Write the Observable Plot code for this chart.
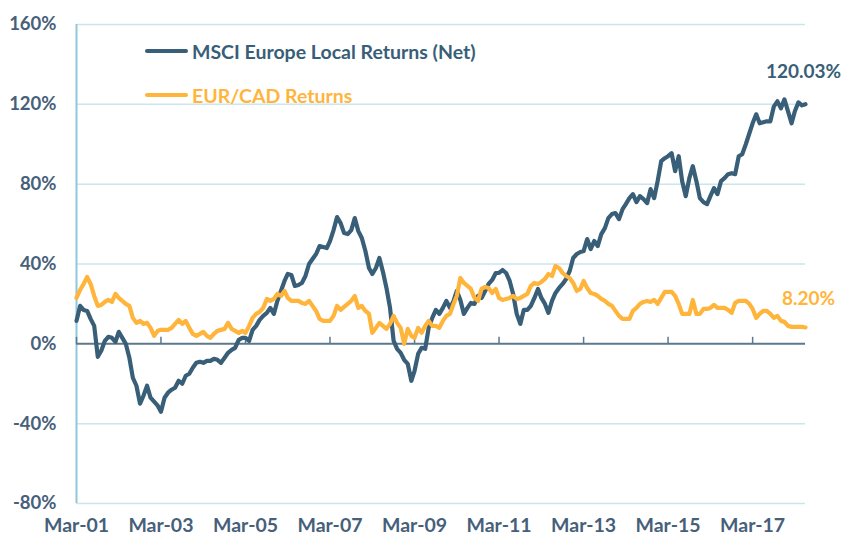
<!DOCTYPE html>
<html><head><meta charset="utf-8">
<script src="https://cdn.jsdelivr.net/npm/d3@7"></script>
<script src="https://cdn.jsdelivr.net/npm/@observablehq/plot@0.6"></script>
<style>
body{margin:0;background:#fff;}
#wrap{position:relative;width:843px;height:538px;font-family:Lato,"Open Sans",sans-serif;}
.row{position:absolute;left:145px;display:flex;align-items:center;height:24px;white-space:nowrap;font-size:19.5px;font-weight:700;}
.sw{width:43px;height:4px;border-radius:2px;margin-right:4px;}
</style></head>
<body><div id="wrap"></div>
<script>
const seriesNames = ["MSCI Europe Local Returns (Net)", "EUR/CAD Returns"];
const startMonth = "2001-03"; // monthly series, Mar-01 .. Jun-18
const msci = [
 11.5,19,17,16.5,12.5,9,-6.5,-3.5,1.5,3.5,3,1,6,3,0,-7,-17,-21,-30,-26,
 -21,-27,-29,-31,-34,-27,-24.5,-23,-22,-18.5,-20,-16,-15,-12,-9.5,-9,-9.5,-8.5,-8.5,-7.5,
 -8,-9.5,-7,-4.5,-3,-2,2,3,3,1.5,7,9,12,14,15.5,18,15,21.5,26.5,31.5,
 35,34.5,29,29.5,30.5,34,40,42.5,45,49,48.5,48,51.5,57,63.5,60.5,55.5,55,57,63,
 56.5,53,46.5,38,35,38,43,36,28,18,1.5,-2.5,-4.5,-8,-10,-18.5,-13.5,-5,-2,-2.5,
 8,13,17,15,18,21.5,18,21.5,26.5,22,15,18,20.5,20,24,23,26.5,30,32,35.5,
 35.5,37,35.5,31.5,25,15,10,17,17,19,23,27.5,23,20,15.5,21.5,25.5,28,30,32.5,
 36.5,43,45,46,46.5,52.5,47.5,51.5,49,55,58,63,65,65.5,62.5,67.5,70,73,75,71,
 74,72.5,70.5,77.5,73,81.5,91.5,93,94,95.5,86.5,94,81.5,74,83,89,81.5,73,71,70,
 74,78,75,81.5,83,85,85.5,85,94,95,100,105.5,110.5,115,110.5,111,111.5,111.5,119,121.5,
 118,122.5,116.5,110.5,116.5,121,119.5,120.03
];
const eurcad = [
 23,27,30,33.5,30,24,19,19.5,21,22,21,25,23,21.5,20,19,13,10.5,11.5,10,
 10.5,8,4,6.5,7,7,7,8,10,12,10,11.5,8,5,4,5,6,4,3,5,
 6.5,7,7.5,10.5,7.5,6.5,5.5,6.5,5.5,9,13,15,16,18,22.5,21.5,22.5,25,24,26.5,
 23,21.5,21.5,21.5,20.5,20,21.5,19,16.5,12.5,11.5,11.5,11.5,14,19,17,18.5,20,21.5,24,
 18,19,16.5,15,5.5,8,10.5,9,7.5,10,14,10.5,8,0,7.5,4,3,8,5.5,9,
 11.5,9,9,8,11.5,14,15,20,24,33,30.5,29,27.5,23,21.5,27.5,28.5,28,25.5,27.5,
 23,22,22.5,23,24,22.5,23,24,25,29,30.5,30,31,32.5,35,34,39,38,35.5,34,
 33,30.5,26.5,27.5,31.5,28,25.5,25,24,22.5,21.5,20,19,16.5,14,12.5,12.5,12.5,16.5,18,
 20,21,21.5,21,22,20,23,26,26,26,24,20,15,15,15,22,15,15,17.5,17.5,
 18,19.5,18,18,18,17,15.5,20.5,21.5,21.5,21.5,20,17.5,13,15,16.5,16.5,15,13,14,
 11.5,11,9,8.5,8.5,8.5,8.5,8.2
];
const tickLabels = ["Mar-01","Mar-03","Mar-05","Mar-07","Mar-09","Mar-11","Mar-13","Mar-15","Mar-17"];
const yTicks = [-80,-40,0,40,80,120,160];
const endLabels = ["120.03%", "8.20%"];

const navy = "#385e78", orange = "#ffb53c";
const parseM = d3.timeParse("%Y-%m");
const start = parseM(startMonth);
const dates = msci.map((_, i) => d3.timeMonth.offset(start, i));
const msciData = msci.map((v, i) => ({date: dates[i], value: v}));
const eurData = eurcad.map((v, i) => ({date: dates[i], value: v}));
const tickDates = tickLabels.map(d3.timeParse("%b-%y"));
const upTick = {draw(ctx) { ctx.moveTo(0, 0); ctx.lineTo(0, -7); }};

const plot = Plot.plot({
  width: 843, height: 538,
  marginTop: 24, marginRight: 38, marginBottom: 35, marginLeft: 76,
  style: {fontFamily: "Lato, 'Open Sans', sans-serif", fontSize: "18.5px", fontWeight: 700, color: "#46607a", background: "white", overflow: "visible"},
  x: {type: "time", domain: [dates[0], dates[dates.length - 1]]},
  y: {domain: [-80, 160]},
  marks: [
    Plot.ruleY(yTicks.filter(d => d !== 0), {stroke: "#c9e5ee", strokeWidth: 1.5}),
    Plot.ruleX([dates[0]], {stroke: "#8ccadb", strokeWidth: 2}),
    Plot.ruleY([0], {stroke: "#5b788e", strokeWidth: 2}),
    Plot.dot(tickDates, {x: d => d, y: () => 0, symbol: upTick, stroke: "#5b788e", strokeWidth: 1.5, fill: "none"}),
    Plot.axisX({ticks: tickDates, tickFormat: d3.timeFormat("%b-%y"), tickSize: 0, tickPadding: 15, fontSize: 19.5, label: null}),
    Plot.axisY({ticks: yTicks, tickFormat: d => d + "%", tickSize: 0, tickPadding: 20, label: null}),
    Plot.line(msciData, {x: "date", y: "value", stroke: navy, strokeWidth: 4.2, strokeLinejoin: "round", strokeLinecap: "round"}),
    Plot.line(eurData, {x: "date", y: "value", stroke: orange, strokeWidth: 4.2, strokeLinejoin: "round", strokeLinecap: "round"}),
    Plot.text([msciData[msciData.length - 1]], {x: "date", y: "value", text: () => endLabels[0], dy: -32, dx: -2, fill: navy, fontSize: 19, fontWeight: 700}),
    Plot.text([eurData[eurData.length - 1]], {x: "date", y: "value", text: () => endLabels[1], dy: -29, dx: 3, fill: orange, fontSize: 19, fontWeight: 700})
  ]
});
const wrap = document.getElementById("wrap");
wrap.appendChild(plot);
const legendRows = [{name: seriesNames[0], color: navy, top: 39}, {name: seriesNames[1], color: orange, top: 83}];
for (const r of legendRows) {
  const row = document.createElement("div");
  row.className = "row";
  row.style.top = r.top + "px";
  row.style.color = r.color;
  const sw = document.createElement("div");
  sw.className = "sw";
  sw.style.background = r.color;
  row.appendChild(sw);
  row.appendChild(document.createTextNode(r.name));
  wrap.appendChild(row);
}
</script>
</body></html>
